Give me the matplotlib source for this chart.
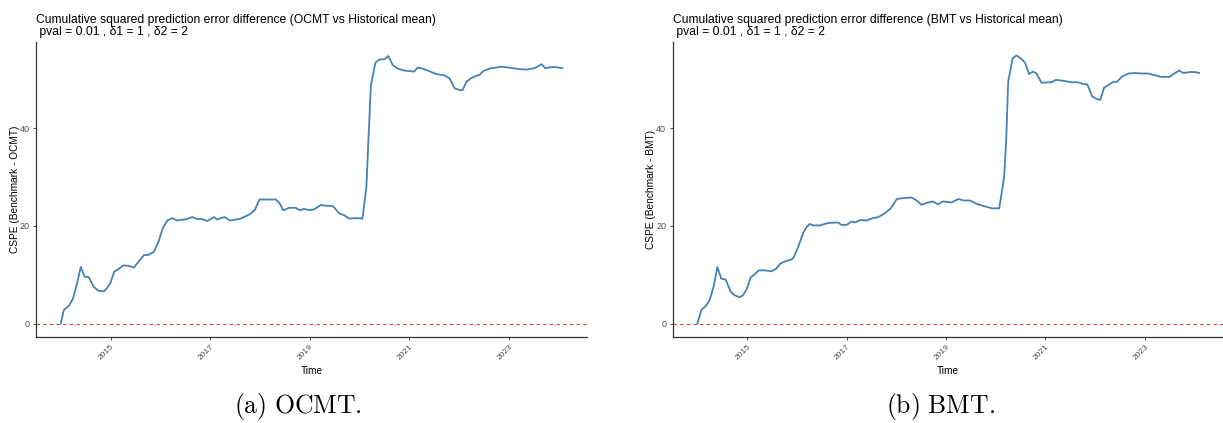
import matplotlib.pyplot as plt
import matplotlib.transforms as mtransforms

plt.rcParams["font.family"] = ["Liberation Sans", "DejaVu Sans"]
plt.rcParams["mathtext.fontset"] = "cm"

# OCMT panel (time in decimal years, CSPE values)
ocmt_t = [2014.00, 2014.06, 2014.16, 2014.24, 2014.33, 2014.40, 2014.48, 2014.56, 2014.66,
          2014.76, 2014.87, 2014.93, 2015.00, 2015.07, 2015.15, 2015.25, 2015.37, 2015.47,
          2015.57, 2015.67, 2015.77, 2015.87, 2015.96, 2016.05, 2016.14, 2016.24, 2016.34,
          2016.47, 2016.53, 2016.64, 2016.74, 2016.84, 2016.94, 2017.08, 2017.14, 2017.21,
          2017.29, 2017.40, 2017.51, 2017.59, 2017.70, 2017.80, 2017.90, 2017.99, 2018.11,
          2018.32, 2018.39, 2018.47, 2018.59, 2018.72, 2018.80, 2018.89, 2018.99, 2019.09,
          2019.23, 2019.33, 2019.46, 2019.59, 2019.69, 2019.79, 2019.93, 2020.06, 2020.14,
          2020.18, 2020.23, 2020.32, 2020.40, 2020.50, 2020.58, 2020.67, 2020.77, 2020.90,
          2021.10, 2021.17, 2021.27, 2021.40, 2021.54, 2021.71, 2021.81, 2021.91, 2022.01,
          2022.07, 2022.15, 2022.24, 2022.34, 2022.41, 2022.49, 2022.61, 2022.85, 2023.01,
          2023.21, 2023.35, 2023.52, 2023.66, 2023.73, 2023.85, 2023.95, 2024.07]
ocmt_v = [0.0, 2.8, 3.6, 5.0, 8.4, 11.6, 9.6, 9.5, 7.5,
          6.7, 6.6, 7.3, 8.4, 10.6, 11.1, 11.9, 11.8, 11.5,
          12.8, 14.0, 14.1, 14.7, 16.7, 19.6, 21.1, 21.6, 21.1,
          21.3, 21.4, 21.8, 21.4, 21.4, 21.0, 21.8, 21.3, 21.6,
          21.8, 21.1, 21.3, 21.4, 21.9, 22.4, 23.3, 25.4, 25.4,
          25.4, 24.7, 23.2, 23.7, 23.7, 23.2, 23.5, 23.2, 23.4,
          24.3, 24.1, 24.1, 22.6, 22.2, 21.5, 21.6, 21.5, 28.1,
          37.6, 48.8, 53.4, 54.1, 54.1, 54.8, 52.9, 52.2, 51.8,
          51.6, 52.4, 52.2, 51.7, 51.1, 50.8, 50.2, 48.2, 47.8,
          47.8, 49.5, 50.2, 50.7, 50.9, 51.7, 52.2, 52.6, 52.4,
          52.1, 52.0, 52.3, 53.1, 52.3, 52.5, 52.5, 52.3]

# BMT panel
bmt_t = [2014.00, 2014.08, 2014.17, 2014.25, 2014.33, 2014.40, 2014.48, 2014.57, 2014.67,
         2014.75, 2014.85, 2014.92, 2014.99, 2015.07, 2015.15, 2015.24, 2015.36, 2015.49,
         2015.58, 2015.67, 2015.78, 2015.89, 2015.94, 2016.03, 2016.13, 2016.19, 2016.26,
         2016.33, 2016.46, 2016.63, 2016.83, 2016.90, 2017.00, 2017.10, 2017.17, 2017.27,
         2017.40, 2017.53, 2017.64, 2017.77, 2017.89, 2018.01, 2018.14, 2018.31, 2018.41,
         2018.51, 2018.61, 2018.74, 2018.84, 2018.93, 2019.11, 2019.25, 2019.35, 2019.48,
         2019.62, 2019.78, 2019.92, 2020.07, 2020.17, 2020.21, 2020.25, 2020.34, 2020.42,
         2020.50, 2020.59, 2020.67, 2020.75, 2020.82, 2020.92, 2021.06, 2021.12, 2021.21,
         2021.36, 2021.53, 2021.66, 2021.76, 2021.84, 2021.94, 2022.03, 2022.10, 2022.18,
         2022.26, 2022.36, 2022.44, 2022.53, 2022.67, 2022.80, 2022.94, 2023.07, 2023.17,
         2023.34, 2023.49, 2023.59, 2023.69, 2023.77, 2023.91, 2024.01, 2024.09]
bmt_v = [0.0, 2.8, 3.6, 4.9, 7.7, 11.6, 9.2, 9.0, 6.5,
         5.8, 5.4, 5.8, 7.0, 9.4, 10.1, 10.9, 10.9, 10.7,
         11.2, 12.3, 12.8, 13.1, 13.6, 15.8, 18.6, 19.7, 20.4,
         20.1, 20.1, 20.6, 20.7, 20.2, 20.2, 20.9, 20.7, 21.2,
         21.1, 21.6, 21.8, 22.6, 23.6, 25.5, 25.7, 25.8, 25.2,
         24.3, 24.7, 25.0, 24.4, 25.0, 24.8, 25.5, 25.2, 25.2,
         24.5, 24.0, 23.6, 23.6, 30.1, 37.6, 49.5, 54.3, 54.9,
         54.3, 53.4, 51.1, 51.6, 51.2, 49.3, 49.4, 49.4, 49.9,
         49.7, 49.4, 49.4, 49.0, 49.0, 46.5, 46.0, 45.8, 48.3,
         48.8, 49.5, 49.5, 50.5, 51.2, 51.3, 51.2, 51.2, 50.9,
         50.5, 50.5, 51.2, 51.8, 51.3, 51.5, 51.5, 51.3]

year_ticks = [2015, 2017, 2019, 2021, 2023]
y_ticks = [0, 20, 40]

panels = [
    (ocmt_t, ocmt_v, "OCMT", r"$\mathrm{(a)\ OCMT.}$"),
    (bmt_t, bmt_v, "BMT", r"$\mathrm{(b)\ BMT.}$"),
]

fig = plt.figure(figsize=(12.23, 4.23), dpi=100)
fig.patch.set_facecolor("white")

axes_rects = [[0.0294, 0.2033, 0.4505, 0.6974],
              [0.5499, 0.2033, 0.4501, 0.6974]]
caption_x = [298 / 1223, 941 / 1223]

shift = mtransforms.ScaledTranslation(0.035, -0.015, fig.dpi_scale_trans)

for rect, cx, (t, v, name, caption) in zip(axes_rects, caption_x, panels):
    ax = fig.add_axes(rect)
    ax.plot(t, v, color="#4682B4", linewidth=1.3)
    ax.axhline(0, color="#d9403a", linewidth=0.8, linestyle=(0, (3, 3)))

    ax.set_xlim(2013.5, 2024.57)
    ax.set_ylim(-2.75, 57.65)
    ax.set_xticks(year_ticks)
    ax.set_xticklabels([str(y) for y in year_ticks], rotation=45, ha="right",
                       va="top", rotation_mode="anchor", fontsize=6, color="#4D4D4D")
    for lab in ax.get_xticklabels():
        lab.set_transform(lab.get_transform() + shift)
    ax.set_yticks(y_ticks)
    ax.set_yticklabels([str(y) for y in y_ticks], fontsize=6.5, color="#4D4D4D")
    ax.tick_params(axis="both", length=2.5, width=0.6, color="#333333", pad=2)

    ax.set_xlabel("Time", fontsize=7.3, color="black", labelpad=3)
    ax.set_ylabel(f"CSPE (Benchmark - {name})", fontsize=7.3, color="black", labelpad=0)

    for side in ["top", "right"]:
        ax.spines[side].set_visible(False)
    for side in ["left", "bottom"]:
        ax.spines[side].set_color("#333333")
        ax.spines[side].set_linewidth(0.9)

    ax.set_title(f"Cumulative squared prediction error difference ({name} vs Historical mean)\n"
                 " pval = 0.01 , \u03b41 = 1 , \u03b42 = 2",
                 loc="left", fontsize=8.75, color="black", pad=5, linespacing=1.05)

    fig.text(cx, 1 - 406 / 423, caption, ha="center", va="center", fontsize=18.5)

plt.savefig("out.png", dpi=100)
